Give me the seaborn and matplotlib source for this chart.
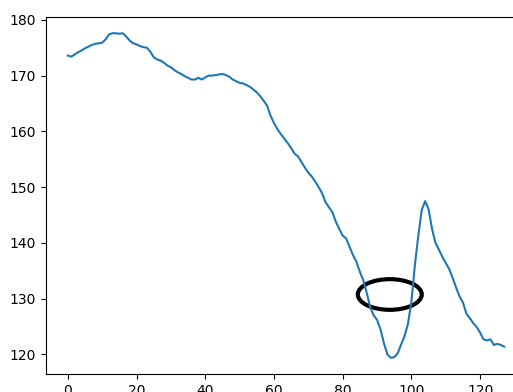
import matplotlib
matplotlib.use("Agg")
import matplotlib.pyplot as plt
from matplotlib.patches import Ellipse
import numpy as np
import pandas as pd
import seaborn as sns

# Measured series, one value per step
values = [
    173.6, 173.4, 173.8, 174.2, 174.5, 174.9, 175.2, 175.5, 175.7, 175.8,
    175.9, 176.5, 177.4, 177.6, 177.6, 177.5, 177.6, 177.0, 176.3, 175.8,
    175.6, 175.3, 175.1, 175.0, 174.3, 173.3, 172.9, 172.7, 172.3, 171.8,
    171.5, 171.0, 170.6, 170.3, 169.9, 169.6, 169.3, 169.3, 169.6, 169.3,
    169.7, 170.0, 170.0, 170.1, 170.2, 170.3, 170.1, 169.8, 169.3, 169.0,
    168.7, 168.6, 168.3, 168.0, 167.5, 167.0, 166.3, 165.5, 164.6, 162.8,
    161.5, 160.4, 159.5, 158.7, 157.9, 157.0, 156.0, 155.5, 154.5, 153.5,
    152.6, 151.9, 151.0, 150.0, 148.9, 147.3, 146.4, 145.5, 143.8, 142.5,
    141.3, 140.8, 139.3, 137.8, 136.6, 134.8, 133.3, 131.0, 128.5, 127.0,
    126.2, 124.5, 122.0, 120.0, 119.4, 119.5, 120.2, 121.8, 123.3, 125.5,
    129.5, 136.0, 141.3, 145.9, 147.5, 146.0, 142.5, 140.0, 138.8, 137.5,
    136.4, 135.3, 133.7, 132.0, 130.4, 129.3, 127.3, 126.5, 125.6, 124.9,
    123.9, 122.7, 122.5, 122.7, 121.7, 121.9, 121.7, 121.4,
]
steps = list(range(len(values)))

# Highlighted region (centre, width, height in data units)
mark_center = (93.7, 130.75)
mark_width = 18.6
mark_height = 5.5

df = pd.DataFrame({"step": steps, "value": values})

fig = plt.figure(figsize=(5.13, 3.92), dpi=100)
ax = fig.add_axes([0.0897, 0.0459, 0.9357, 0.9107])

sns.lineplot(data=df, x="step", y="value", color="#1f77b4", linewidth=1.5, ax=ax)
ax.add_patch(Ellipse(mark_center, mark_width, mark_height,
                     fill=False, edgecolor="black", linewidth=3.0))

ax.set_xlabel("")
ax.set_ylabel("")
ax.set_xticks([0, 20, 40, 60, 80, 100, 120])
ax.set_yticks([120, 130, 140, 150, 160, 170, 180])
ax.margins(x=0.05, y=0.05)

fig.savefig("out.png", dpi=100)
